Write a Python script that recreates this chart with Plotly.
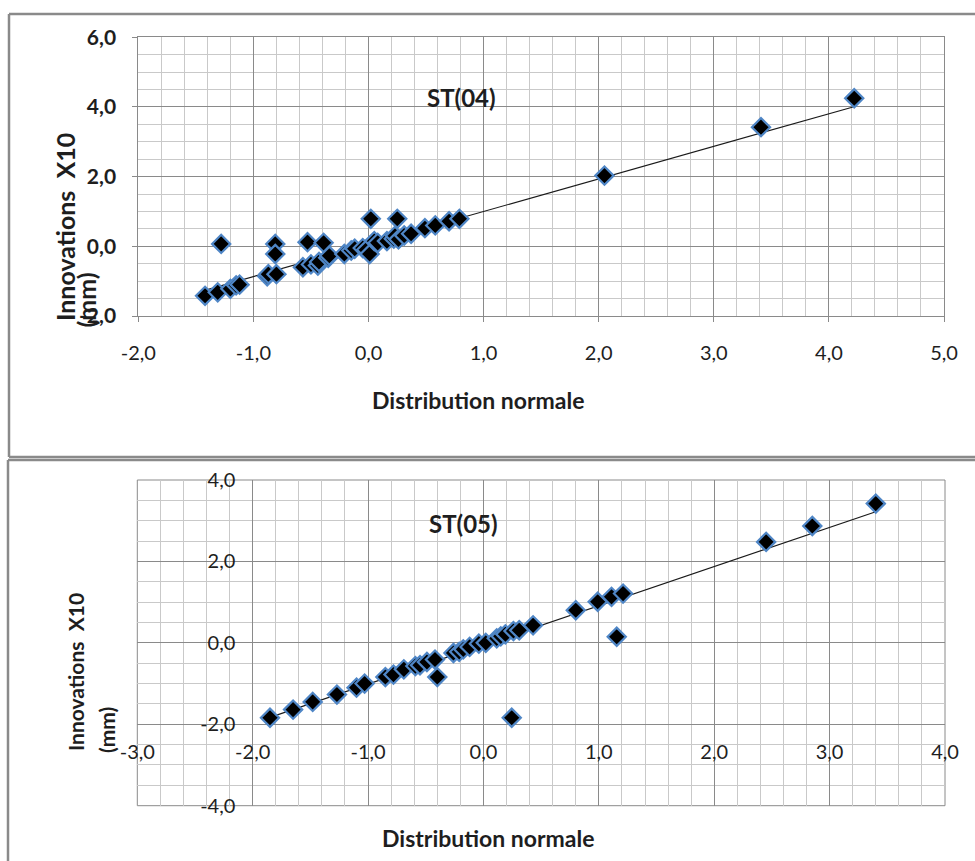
import plotly.graph_objects as go

W, H = 975, 861

# ---------------- data : ST(04) ----------------
st04_x = [-1.42, -1.31, -1.28, -1.20, -1.15, -1.12, -0.88, -0.87, -0.81, -0.81,
          -0.80, -0.57, -0.53, -0.50, -0.44, -0.43, -0.39, -0.35, -0.34, -0.21,
          -0.15, -0.12, -0.05, -0.02, 0.02, 0.01, 0.05, 0.08, 0.16, 0.22,
          0.23, 0.25, 0.26, 0.31, 0.37, 0.49, 0.58, 0.70, 0.79, 2.05,
          3.41, 4.22]
st04_y = [-1.42, -1.32, 0.07, -1.22, -1.12, -1.10, -0.86, -0.80, 0.07, -0.22,
          -0.80, -0.60, 0.12, -0.52, -0.55, -0.45, 0.10, -0.33, -0.27, -0.22,
          -0.12, -0.07, -0.05, -0.10, 0.79, -0.22, 0.15, 0.10, 0.15, 0.22,
          0.30, 0.79, 0.20, 0.31, 0.36, 0.52, 0.60, 0.72, 0.79, 2.03,
          3.42, 4.25]
st04_trend_x = [-1.43, 4.21]
st04_trend_y = [-1.27, 4.00]

# ---------------- data : ST(05) ----------------
st05_x = [-1.85, -1.65, -1.48, -1.27, -1.10, -1.03, -0.85, -0.78, -0.69, -0.59,
          -0.55, -0.49, -0.42, -0.40, -0.26, -0.21, -0.175, -0.12, -0.04, 0.02,
          0.115, 0.15, 0.19, 0.26, 0.31, 0.43, 0.245, 0.80, 0.99, 1.11,
          1.21, 1.155, 2.45, 2.85, 3.40]
st05_y = [-1.84, -1.64, -1.45, -1.27, -1.10, -1.00, -0.84, -0.78, -0.65, -0.57,
          -0.55, -0.47, -0.41, -0.84, -0.25, -0.22, -0.16, -0.10, -0.02, 0.00,
          0.11, 0.16, 0.21, 0.29, 0.31, 0.43, -1.84, 0.80, 1.01, 1.13,
          1.21, 0.15, 2.48, 2.87, 3.42]
st05_trend_x = [-1.85, 3.40]
st05_trend_y = [-1.83, 3.22]

# ---------------- tick labels ----------------
top_x_vals = [-2, -1, 0, 1, 2, 3, 4, 5]
top_x_text = ["-2,0", "-1,0", "0,0", "1,0", "2,0", "3,0", "4,0", "5,0"]
top_y_vals = [-2, 0, 2, 4, 6]
top_y_text = ["-2,0", "0,0", "2,0", "4,0", "6,0"]
bot_x_vals = [-3, -2, -1, 0, 1, 2, 3, 4]
bot_x_text = ["-3,0", "-2,0", "-1,0", "0,0", "1,0", "2,0", "3,0", "4,0"]
bot_y_vals = [-4, -2, 0, 2, 4]
bot_y_text = ["-4,0", "-2,0", "0,0", "2,0", "4,0"]

FONT = "Lato, 'Open Sans', sans-serif"
MAJOR = "#8a8a8a"
MINOR = "#c9c9c9"
TXT = "#1e1e1e"
MK_LINE = "#4f86c6"
BOX = "#8a8a8a"


def px(v):
    return v / W


def py(v):
    return 1 - v / H


fig = go.Figure()

marker = dict(symbol="diamond", size=14, color="black",
              line=dict(color=MK_LINE, width=2.2))

fig.add_trace(go.Scatter(x=st04_trend_x, y=st04_trend_y, mode="lines",
                         line=dict(color="#1a1a1a", width=1.2),
                         xaxis="x", yaxis="y", showlegend=False))
fig.add_trace(go.Scatter(x=st04_x, y=st04_y, mode="markers", marker=marker,
                         xaxis="x", yaxis="y", showlegend=False))
fig.add_trace(go.Scatter(x=st05_trend_x, y=st05_trend_y, mode="lines",
                         line=dict(color="#1a1a1a", width=1.2),
                         xaxis="x2", yaxis="y2", showlegend=False))
fig.add_trace(go.Scatter(x=st05_x, y=st05_y, mode="markers", marker=marker,
                         xaxis="x2", yaxis="y2", showlegend=False))

common = dict(showgrid=True, gridcolor=MAJOR, gridwidth=1, zeroline=False,
              tickmode="array", automargin=False)

fig.update_layout(
    width=W, height=H, margin=dict(l=0, r=0, t=0, b=0, autoexpand=False),
    paper_bgcolor="white", plot_bgcolor="white",
    font=dict(family=FONT, color=TXT),
    xaxis=dict(common, domain=[px(138.3), px(944)], range=[-2, 5], anchor="y",
               tickvals=top_x_vals, ticktext=top_x_text,
               minor=dict(tickmode="linear", tick0=0, dtick=0.2, showgrid=True,
                          gridcolor=MINOR, ticks=""),
               showline=True, linecolor=MAJOR, mirror=True,
               ticks="outside", ticklen=5, tickcolor=MAJOR,
               ticklabelstandoff=14,
               tickfont=dict(size=20, color=TXT, family=FONT)),
    yaxis=dict(common, domain=[py(316), py(37.3)], range=[-2, 6], anchor="x",
               tickvals=top_y_vals, ticktext=top_y_text,
               minor=dict(tickmode="linear", tick0=0, dtick=0.5, showgrid=True,
                          gridcolor=MINOR, ticks=""),
               showline=True, linecolor=MAJOR, mirror=True,
               ticks="outside", ticklen=5, tickcolor=MAJOR,
               ticklabelstandoff=12,
               tickfont=dict(size=21, color=TXT, family=FONT, weight="bold")),
    xaxis2=dict(common, domain=[px(137.3), px(945)], range=[-3, 4],
                anchor="free", position=py(724.3),
                tickvals=bot_x_vals, ticktext=bot_x_text,
                minor=dict(tickmode="linear", tick0=0, dtick=0.2, showgrid=True,
                           gridcolor=MINOR, ticks=""),
                showline=False, ticks="", ticklabelstandoff=14,
                tickfont=dict(size=20, color=TXT, family=FONT)),
    yaxis2=dict(common, domain=[py(805.7), py(480)], range=[-4, 4],
                anchor="free", position=px(253.3),
                tickvals=bot_y_vals, ticktext=bot_y_text,
                minor=dict(tickmode="linear", tick0=0, dtick=0.5, showgrid=True,
                           gridcolor=MINOR, ticks=""),
                showline=False, ticks="", ticklabelstandoff=18,
                tickfont=dict(size=20, color=TXT, family=FONT)),
)


def seg(x0, y0, x1, y1, color=BOX, width=2.5, layer="above"):
    return dict(type="line", xref="paper", yref="paper",
                x0=px(x0), y0=py(y0), x1=px(x1), y1=py(y1),
                line=dict(color=color, width=width), layer=layer)


shapes = [
    # top chart box (continues past the right edge in the original)
    seg(9, 14, 975, 14),
    seg(9, 14, 9, 457),
    seg(9, 457, 975, 457),
    # bottom chart box (continues past right and bottom edges)
    seg(8, 460, 975, 460),
    seg(8, 460, 8, 861),
    # bottom plot frame
    seg(137.3, 480, 945, 480, MAJOR, 1, "below"),
    seg(945, 480, 945, 805.7, MAJOR, 1, "below"),
    seg(137.3, 805.7, 945, 805.7, MAJOR, 1, "below"),
    seg(137.3, 480, 137.3, 805.7, MAJOR, 1, "below"),
]
fig.update_layout(shapes=shapes)

ann = []


def add_ann(text, x, y, size, angle=0, xanchor="center", yanchor="middle", bold=True):
    ann.append(dict(text=text, xref="paper", yref="paper", x=px(x), y=py(y),
                    showarrow=False, textangle=angle, xanchor=xanchor,
                    yanchor=yanchor,
                    font=dict(size=size, family=FONT, color=TXT,
                              weight="bold" if bold else "normal")))


add_ann("ST(04)", 461, 98, 24)
add_ann("ST(05)", 463, 523, 24)
add_ann("Distribution normale", 478, 400, 23)
add_ann("Distribution normale", 489, 838, 23)
add_ann("Innovations  X10", 65, 323, 25, angle=-90, yanchor="bottom")
add_ann("(mm)", 86, 330, 25, angle=-90, yanchor="bottom")
add_ann("Innovations  X10", 75, 753, 21, angle=-90, yanchor="bottom")
add_ann("(mm)", 106, 755, 21, angle=-90, yanchor="bottom")
fig.update_layout(annotations=ann)

fig.write_html("out.html")
